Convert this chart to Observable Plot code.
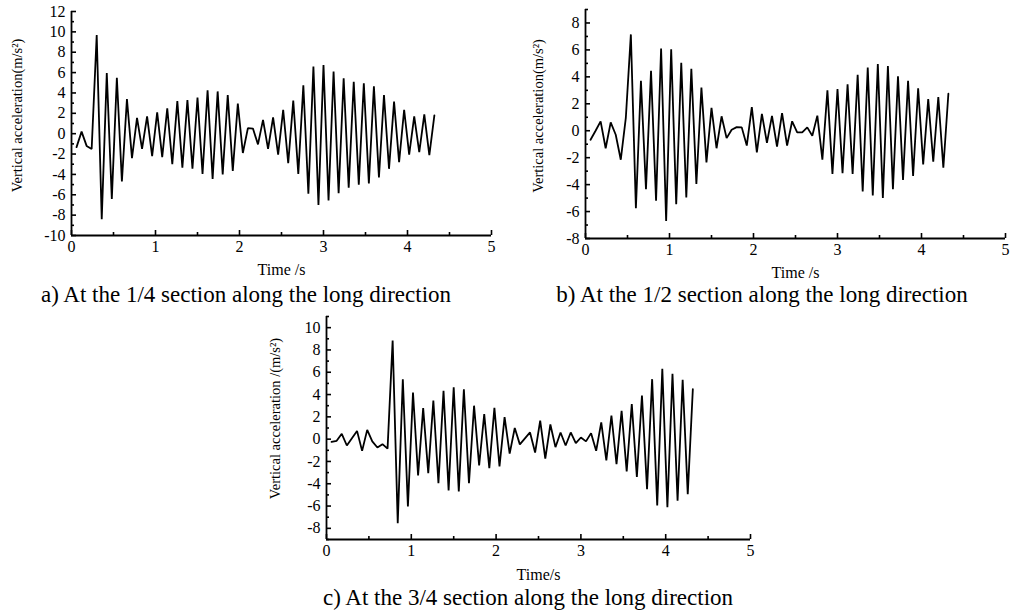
<!DOCTYPE html>
<html><head><meta charset="utf-8">
<script src="https://cdn.jsdelivr.net/npm/d3@7"></script>
<script src="https://cdn.jsdelivr.net/npm/@observablehq/plot@0.6"></script>
<style>
body{margin:0;background:#fff;}
#root{position:relative;width:1013px;height:616px;overflow:hidden;font-family:"Liberation Serif","Times New Roman",serif;color:#000;}
.panel{position:absolute;}
.cap{position:absolute;font-size:23px;line-height:23px;white-space:nowrap;transform:translateX(-50%);}
</style></head><body><div id="root"></div>
<script>
// Time (s)
const time = [0.06,0.12,0.18,0.24,0.30,0.36,0.42,0.48,0.54,0.60,0.66,0.72,0.78,0.84,0.90,0.96,1.02,1.08,1.14,1.20,1.26,1.32,1.38,1.44,1.50,1.56,1.62,1.68,1.74,1.80,1.86,1.92,1.98,2.04,2.10,2.16,2.22,2.28,2.34,2.40,2.46,2.52,2.58,2.64,2.70,2.76,2.82,2.88,2.94,3.00,3.06,3.12,3.18,3.24,3.30,3.36,3.42,3.48,3.54,3.60,3.66,3.72,3.78,3.84,3.90,3.96,4.02,4.08,4.14,4.20,4.26,4.32];
// a) 1/4 section
const accelA = [-1.32,0.2,-1.2,-1.5,9.7,-8.4,5.95,-6.4,5.5,-4.7,3.4,-2.4,1.55,-1.5,1.7,-2.2,2.1,-2.3,2.5,-3.0,3.2,-3.35,3.3,-3.45,3.55,-3.95,4.25,-4.45,4.15,-4.0,3.8,-3.65,2.95,-1.9,0.55,0.5,-1.05,1.35,-1.5,1.6,-2.05,2.35,-2.9,3.25,-3.95,4.75,-5.9,6.6,-7.0,6.75,-6.55,6.1,-5.85,5.45,-5.3,5.1,-5.0,4.95,-4.9,4.65,-4.3,3.8,-3.45,3.15,-2.8,2.35,-2.05,1.7,-1.8,1.9,-2.1,1.8];
// b) 1/2 section
const accelB = [-0.67,0.0,0.7,-1.3,0.62,-0.3,-2.15,0.95,7.15,-5.75,3.7,-4.35,4.45,-5.2,6.1,-6.7,6.05,-5.45,5.05,-4.95,4.6,-3.95,3.2,-2.35,1.7,-1.3,1.07,-0.55,0.07,0.27,0.25,-1.1,1.75,-1.6,1.25,-0.9,1.1,-1.18,1.3,-1.1,0.7,-0.12,-0.12,0.25,-0.37,1.12,-2.15,3.0,-3.2,3.1,-3.15,3.45,-3.2,4.15,-4.5,4.7,-4.8,4.95,-5.0,4.8,-4.35,4.05,-3.65,3.7,-3.35,3.15,-2.5,2.35,-2.3,2.5,-2.75,2.75];
// c) 3/4 section
const accelC = [-0.25,-0.15,0.48,-0.57,0.09,0.74,-1.05,0.83,-0.2,-0.75,-0.45,-0.85,8.85,-7.53,5.38,-6.04,4.19,-3.26,2.78,-3.05,3.47,-3.95,4.33,-4.6,4.66,-4.7,4.48,-3.95,3.0,-2.36,2.24,-2.6,2.8,-2.45,1.97,-1.3,1.0,-0.47,0.07,0.6,-1.2,1.67,-1.75,1.32,-0.72,0.6,-0.57,0.6,-0.36,0.15,-0.2,0.54,-1.05,1.5,-1.9,2.12,-2.24,2.54,-2.9,3.14,-3.4,3.92,-4.48,5.38,-5.95,6.3,-6.1,5.86,-5.53,5.32,-4.93,4.48];

const xTicks = [0,1,2,3,4,5];
const xMinorTicks = [0.5,1.5,2.5,3.5,4.5];
const yTicksA = [-10,-8,-6,-4,-2,0,2,4,6,8,10,12];
const yMinorA = [-9,-7,-5,-3,-1,1,3,5,7,9,11];
const yTicksB = [-8,-6,-4,-2,0,2,4,6,8];
const yMinorB = [-7,-5,-3,-1,1,3,5,7,9];
const yTicksC = [-8,-6,-4,-2,0,2,4,6,8,10];
const yMinorC = [-9,-7,-5,-3,-1,1,3,5,7,9,11];

const yLabels = ["Vertical acceleration(m/s²)","Vertical acceleration(m/s²)","Vertical acceleration /(m/s²)"];
const xLabels = ["Time /s","Time /s","Time/s"];
const captions = ["a) At the 1/4 section along the long direction","b) At the 1/2 section along the long direction","c) At the 3/4 section along the long direction"];

function makePanel(o){
  const data = time.map((t,i)=>({t, v:o.values[i]}));
  const fmt = d => String(d);
  return Plot.plot({
    width:o.w, height:o.h,
    marginLeft:o.ml, marginRight:o.mr, marginTop:o.mt, marginBottom:o.mb,
    style:{fontFamily:"'Liberation Serif','Times New Roman',serif", fontSize:"16px", background:"transparent", color:"#000", overflow:"visible"},
    x:{domain:[0,5]},
    y:{domain:o.yDomain},
    marks:[
      Plot.axisX({ticks:xTicks, tickSize:0, tickPadding:5, tickFormat:fmt, label:null, fontSize:16}),
      Plot.axisX({ticks:xTicks, tickSize:-5, tickFormat:()=>"", label:null, strokeWidth:1.6}),
      Plot.axisX({ticks:xMinorTicks, tickSize:-3, tickFormat:()=>"", label:null, strokeWidth:1.6}),
      Plot.axisY({ticks:o.yTicks, tickSize:0, tickPadding:6, tickFormat:fmt, label:null, fontSize:16}),
      Plot.axisY({ticks:o.yTicks, tickSize:-5, tickFormat:()=>"", label:null, strokeWidth:1.6}),
      Plot.axisY({ticks:o.yMinor, tickSize:-3, tickFormat:()=>"", label:null, strokeWidth:1.6}),
      Plot.ruleX([0], {stroke:"#000", strokeWidth:1.8}),
      Plot.ruleY([o.yDomain[0]], {stroke:"#000", strokeWidth:1.8}),
      Plot.line(data, {x:"t", y:"v", stroke:"#000", strokeWidth:1.8, strokeLinejoin:"miter"}),
      Plot.text([o.yLabel], {text:d=>d, frameAnchor:"left", rotate:-90, textAnchor:"middle", lineAnchor:"middle", dx:o.ydx, dy:o.ydy, fontSize:14.5}),
      Plot.text([o.xLabel], {text:d=>d, frameAnchor:"bottom", textAnchor:"middle", lineAnchor:"middle", dy:o.xdy, fontSize:16})
    ]
  });
}

const root = document.getElementById("root");
const cfg = [
  {values:accelA, yDomain:[-10,12], yTicks:yTicksA, yMinor:yMinorA, left:0, top:0, w:500, h:282, ml:71, mr:9, mt:11, mb:47, ydx:-54, ydy:-8, xdy:34, yLabel:yLabels[0], xLabel:xLabels[0]},
  {values:accelB, yDomain:[-8,9], yTicks:yTicksB, yMinor:yMinorB, left:520, top:0, w:493, h:282, ml:65, mr:8, mt:9, mb:44, ydx:-47, ydy:-8, xdy:34, yLabel:yLabels[1], xLabel:xLabels[1]},
  {values:accelC, yDomain:[-9,11], yTicks:yTicksC, yMinor:yMinorC, left:240, top:300, w:520, h:283, ml:86, mr:10, mt:16, mb:44, ydx:-51, ydy:-9.5, xdy:35, yLabel:yLabels[2], xLabel:xLabels[2]}
];
cfg.forEach(o=>{
  const div = document.createElement("div");
  div.className = "panel";
  div.style.left = o.left+"px"; div.style.top = o.top+"px";
  div.appendChild(makePanel(o));
  root.appendChild(div);
});
const capPos = [{x:246,y:283},{x:762,y:283},{x:528,y:586}];
captions.forEach((c,i)=>{
  const d = document.createElement("div");
  d.className = "cap";
  d.textContent = c;
  d.style.left = capPos[i].x+"px"; d.style.top = capPos[i].y+"px";
  root.appendChild(d);
});
</script>
</body></html>
